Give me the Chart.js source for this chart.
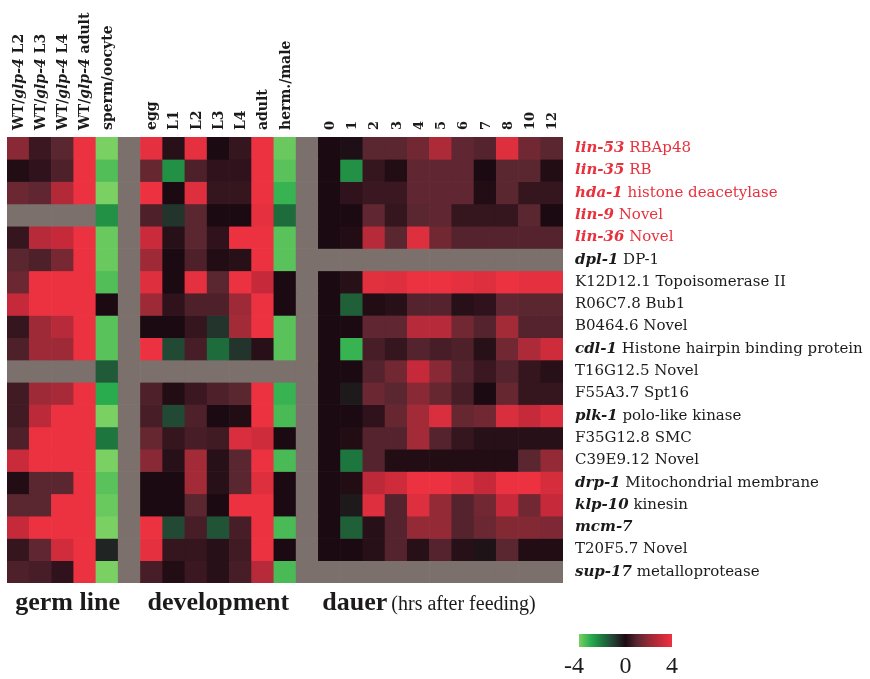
<!DOCTYPE html>
<html>
<head>
<meta charset="utf-8">
<script src="https://cdn.jsdelivr.net/npm/chart.js@4.4.0/dist/chart.umd.min.js"></script>
<style>
  body { margin: 0; background: #fff; }
  canvas { display: block; }
</style>
</head>
<body>
<canvas id="heatmap" width="870" height="679"></canvas>
<script>
// column labels, *...* = italic part
var germCols = ["WT/*glp-4* L2", "WT/*glp-4* L3", "WT/*glp-4* L4", "WT/*glp-4* adult", "sperm/oocyte"];
var devCols = ["egg", "L1", "L2", "L3", "L4", "adult", "herm./male"];
var dauerCols = ["0", "1", "2", "3", "4", "5", "6", "7", "8", "10", "12"];

// gene labels (top to bottom)
var genes = ["*lin-53* RBAp48", "*lin-35* RB", "*hda-1* histone deacetylase", "*lin-9* Novel", "*lin-36* Novel",
  "*dpl-1* DP-1", "K12D12.1 Topoisomerase II", "R06C7.8 Bub1", "B0464.6 Novel",
  "*cdl-1* Histone hairpin binding protein", "T16G12.5 Novel", "F55A3.7 Spt16", "*plk-1* polo-like kinase",
  "F35G12.8 SMC", "C39E9.12 Novel", "*drp-1* Mitochondrial membrane", "*klp-10* kinesin", "*mcm-7*",
  "T20F5.7 Novel", "*sup-17* metalloprotease"];
var redGenes = [0, 1, 2, 3, 4];

// log ratios, -4 .. 4, null = no data
var germLine = [
  [1.8, 0.5, 1.0, 4, -4],
  [0.1, 0.3, 0.8, 4, -3.5],
  [1.3, 1.1, 2.6, 4, -4],
  [null, null, null, null, -2.5],
  [0.4, 2.7, 3.0, 4, -3.8],
  [1.0, 0.8, 1.5, 4, -3.8],
  [1.3, 4, 4, 4, -3.5],
  [3.0, 4, 4, 4, 0],
  [0.4, 2.2, 2.7, 4, -3.6],
  [0.8, 2.2, 2.2, 4, -3.6],
  [null, null, null, null, -1.5],
  [0.6, 2.2, 2.4, 4, -3],
  [0.6, 2.8, 4, 4, -4],
  [0.8, 4, 4, 4, -2],
  [3.1, 4, 4, 4, -4],
  [0.1, 1.0, 1.0, 4, -3.6],
  [1.0, 1.0, 4, 4, -3.8],
  [3.0, 4, 4, 4, -4],
  [0.4, 1.1, 3.3, 4, -0.5],
  [0.8, 0.7, 0.3, 4, -4]
];

var development = [
  [3.8, 0.2, 3.8, 0, 0.4, 4, -3.8],
  [1.2, -2.5, 0.8, 0.3, 0.3, 4, -3.6],
  [4, 0, 3.6, 0.4, 0.4, 4, -3.2],
  [0.8, -0.8, 1.0, 0, 0, 3.8, -1.8],
  [3.1, 0.2, 1.0, 0.3, 4, 4, -3.6],
  [2.2, 0, 0.8, 0.1, 0.2, 4, -3.6],
  [3.6, 0, 3.8, 1.0, 4, 3.0, 0],
  [2.2, 0.3, 0.8, 0.8, 2.2, 4, 0],
  [0, 0, 0.4, -0.8, 2.3, 4, -3.6],
  [4, -1.2, 0.7, -1.8, -0.8, 0.2, -3.6],
  [null, null, null, null, null, null, null],
  [0.8, 0.1, 0.5, 0.8, 1.0, 4, -3.2],
  [0.7, -1.2, 0.8, 0, 0.1, 4, -3.4],
  [1.2, 0.4, 0.7, 0.6, 3.5, 3.2, 0],
  [1.8, 0.2, 2.3, 0.2, 1.0, 4, -3.4],
  [0, 0, 2.3, 0.2, 1.0, 3.6, 0],
  [0, 0, 1.0, 0, 4, 4, 0],
  [4, -1.2, 0.7, -1.4, 0.7, 4, -3.4],
  [3.8, 0.4, 0.4, 0.2, 0.6, 4, 0],
  [0.7, 0.1, 0.5, 0.2, 0.7, 2.7, -3.4]
];

var dauer = [
  [0, -0.1, 1.0, 1.0, 1.4, 2.5, 1.1, 0.9, 3.6, 1.4, 1.0],
  [0, -2.5, 0.4, 0.1, 1.1, 1.1, 1.1, 0, 1.0, 1.0, 0.1],
  [0, 0.3, 0.5, 0.5, 1.1, 1.1, 1.1, 0.1, 1.0, 0.4, 0.4],
  [0, 0, 1.1, 0.4, 1.0, 1.1, 0.4, 0.4, 0.4, 1.0, 0],
  [0, 0.1, 2.7, 1.0, 3.6, 1.4, 0.9, 0.9, 0.9, 0.9, 0.9],
  [null, null, null, null, null, null, null, null, null, null, null],
  [0, 0.2, 3.7, 3.6, 4, 4, 3.8, 3.6, 4, 3.8, 3.8],
  [0, -1.6, 0.1, 0.2, 0.9, 0.9, 0.2, 0.3, 1.1, 1.0, 1.0],
  [0, 0, 1.1, 1.1, 2.7, 2.7, 1.4, 0.9, 2.3, 0.9, 0.9],
  [0, -3.2, 0.7, 0.4, 0.9, 0.7, 0.8, 0.2, 1.4, 2.5, 3.2],
  [0, 0, 0.9, 1.4, 3.0, 1.8, 0.9, 0.5, 0.9, 0.4, 0.2],
  [0, -0.3, 1.3, 1.0, 1.8, 1.2, 0.7, 0, 1.2, 0.4, 0.4],
  [0, 0, 0.3, 1.2, 2.3, 3.5, 1.2, 1.4, 3.5, 3.0, 3.5],
  [0, 0.1, 0.9, 0.9, 2.3, 0.9, 0.4, 0.2, 0.2, 0.2, 0.2],
  [0, -2.0, 0.9, 0.1, 0.1, 0.1, 0.1, 0.1, 0.1, 1.0, 2.0],
  [0, 0.1, 2.8, 3.2, 4, 4, 3.6, 3.0, 4, 4, 3.4],
  [0, -0.3, 3.6, 0.9, 3.6, 2.0, 0.9, 1.4, 3.0, 1.4, 3.0],
  [0, -1.6, 0.2, 0.9, 2.0, 2.0, 0.9, 1.3, 1.7, 1.7, 1.6],
  [0, 0, 0.2, 0.9, 0.2, 0.9, 0.2, -0.2, 1.0, 0.1, 0.1],
  [null, null, null, null, null, null, null, null, null, null, null]
];

var GRAY = "rgb(124,112,108)";
var stops = [
  [-4, [122, 208, 98]], [-3, [40, 172, 78]], [-2, [28, 118, 62]], [-1, [36, 62, 50]],
  [0, [28, 10, 18]], [1, [90, 38, 48]], [2, [148, 42, 54]], [3, [198, 42, 58]], [4, [236, 50, 64]]
];

function cellColor(v) {
  if (v === null) return GRAY;
  v = Math.max(-4, Math.min(4, v));
  for (var i = 0; i < stops.length - 1; i++) {
    var a = stops[i], b = stops[i + 1];
    if (v >= a[0] && v <= b[0]) {
      var t = (v - a[0]) / (b[0] - a[0]);
      var c = a[1].map(function (x, k) { return Math.round(x + (b[1][k] - x) * t); });
      return "rgb(" + c.join(",") + ")";
    }
  }
  return GRAY;
}

// one column of gray between the groups
var columns = germCols.concat([""], devCols, [""], dauerCols);
var rows = genes.map(function (g, r) {
  return germLine[r].concat([null], development[r], [null], dauer[r]);
});

var datasets = rows.map(function (vals, r) {
  return {
    label: genes[r],
    data: vals.map(function () { return 1; }),
    backgroundColor: vals.map(cellColor),
    borderWidth: 0,
    barPercentage: 1,
    categoryPercentage: 1
  };
});

// draws text with *italic* parts
function richText(ctx, text, x, y, size, weight, italWeight, family, color) {
  var parts = text.split("*");
  ctx.fillStyle = color;
  for (var i = 0; i < parts.length; i++) {
    if (!parts[i]) continue;
    ctx.font = (i % 2 ? "italic " + italWeight : weight) + " " + size + "px " + family;
    ctx.fillText(parts[i], x, y);
    x += ctx.measureText(parts[i]).width;
  }
}

var labelsPlugin = {
  id: "labels",
  afterDraw: function (chart) {
    var ctx = chart.ctx, xs = chart.scales.x, ys = chart.scales.y, area = chart.chartArea;
    ctx.save();
    ctx.textBaseline = "middle";
    ctx.textAlign = "left";

    // column headers, rotated
    columns.forEach(function (c, i) {
      if (!c) return;
      ctx.save();
      ctx.translate(xs.getPixelForValue(i) + 1, area.top - 7);
      ctx.rotate(-Math.PI / 2);
      var size = i > 13 ? 13 : 14;
      richText(ctx, c, 0, 0, size, "bold", "bold", "'DejaVu Serif'", "#1c1a1a");
      ctx.restore();
    });

    // gene names on the right
    genes.forEach(function (g, r) {
      var color = redGenes.indexOf(r) >= 0 ? "#e8313d" : "#1c1a1a";
      richText(ctx, g, area.right + 12, ys.getPixelForValue(r + 0.5), 15, "normal", "bold", "'DejaVu Serif'", color);
    });

    // group captions under the map
    ctx.textBaseline = "alphabetic";
    ctx.fillStyle = "#1c1a1a";
    ctx.font = "bold 26px 'Liberation Serif'";
    ctx.textAlign = "center";
    var half = (xs.getPixelForValue(1) - xs.getPixelForValue(0)) / 2;
    ctx.fillText("germ line", (xs.getPixelForValue(0) + xs.getPixelForValue(4)) / 2 + 5, area.bottom + 27);
    ctx.fillText("development", (xs.getPixelForValue(6) + xs.getPixelForValue(12)) / 2, area.bottom + 27);
    ctx.textAlign = "left";
    var dx = xs.getPixelForValue(14) - half + 4;
    ctx.fillText("dauer", dx, area.bottom + 27);
    dx += ctx.measureText("dauer").width + 4;
    ctx.font = "20px 'Liberation Serif'";
    ctx.fillText("(hrs after feeding)", dx, area.bottom + 27);

    // colour key
    var kx = 579, kw = 93, ky = 634, kh = 13;
    var grad = ctx.createLinearGradient(kx, 0, kx + kw, 0);
    for (var v = -4; v <= 4; v += 0.5) grad.addColorStop((v + 4) / 8, cellColor(v));
    ctx.fillStyle = grad;
    ctx.fillRect(kx, ky, kw, kh);
    ctx.fillStyle = "#1c1a1a";
    ctx.font = "24px 'Liberation Serif'";
    ctx.textAlign = "right";
    ctx.fillText("-4", kx + 5, 673);
    ctx.textAlign = "center";
    ctx.fillText("0", kx + kw / 2, 673);
    ctx.fillText("4", kx + kw, 673);
    ctx.restore();
  }
};

new Chart(document.getElementById("heatmap"), {
  type: "bar",
  data: { labels: columns, datasets: datasets },
  options: {
    responsive: false,
    animation: false,
    layout: { padding: { left: 7, top: 137, right: 307, bottom: 96 } },
    plugins: { legend: { display: false }, tooltip: { enabled: false } },
    scales: {
      x: { stacked: true, display: false },
      y: { stacked: true, display: false, reverse: true, min: 0, max: genes.length }
    }
  },
  plugins: [labelsPlugin]
});
</script>
</body>
</html>
